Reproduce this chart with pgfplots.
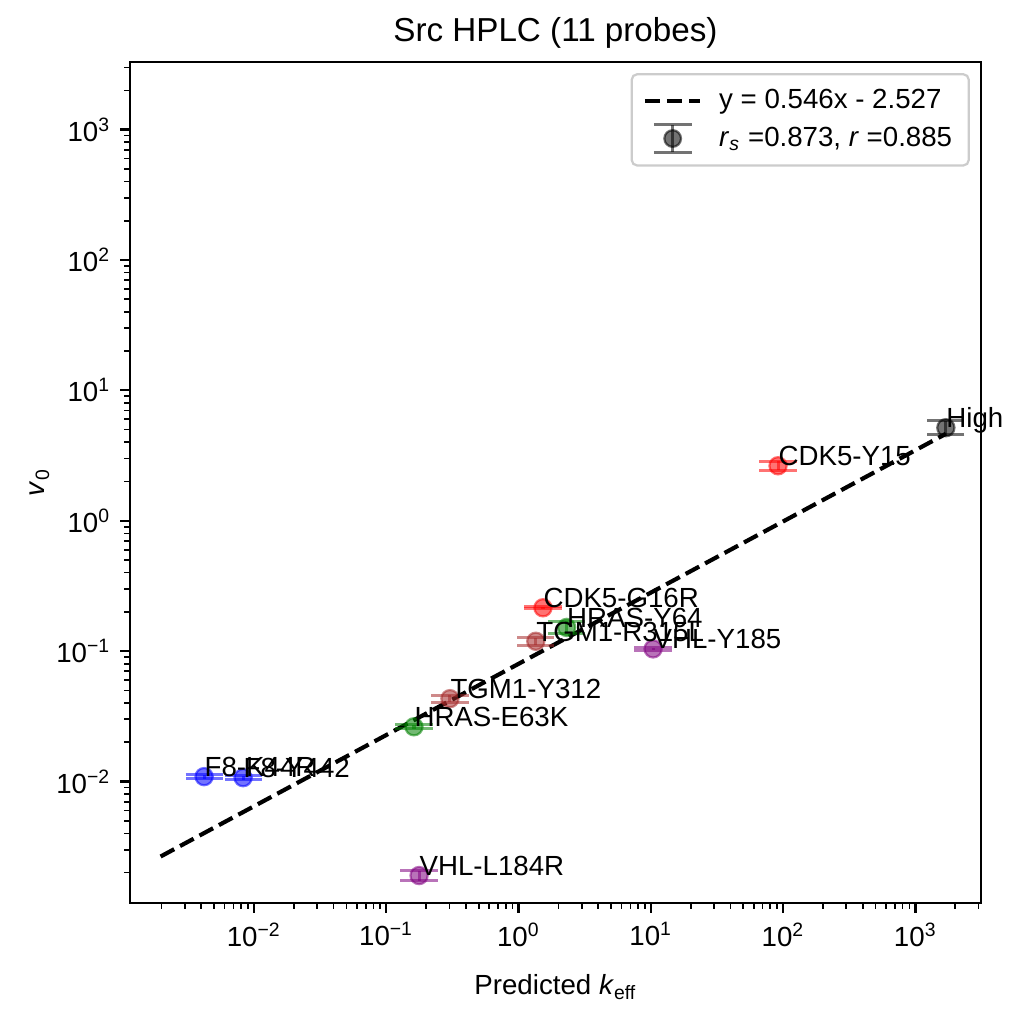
\documentclass[border=0pt]{standalone}
\usepackage{fontspec}
\setmainfont{Liberation Sans}
\usepackage{pgfplots}
\usepackage{pgfplotstable}
\pgfplotsset{compat=1.18}

\pgfplotstableread{
x y ep em
0.0042 0.0109 0.0004 0.0004
0.00828 0.0107 0.0004 0.0004
}\tblF
\pgfplotstableread{
x y ep em
0.177 0.0019 0.00017 0.00016
10.4 0.104 0.0025 0.0024
}\tblV
\pgfplotstableread{
x y ep em
0.162 0.0263 0.0009 0.0009
2.31 0.152 0.017 0.016
}\tblH
\pgfplotstableread{
x y ep em
0.303 0.0432 0.0028 0.0026
1.35 0.119 0.008 0.008
}\tblT
\pgfplotstableread{
x y ep em
1.53 0.215 0.004 0.004
91.5 2.64 0.23 0.21
}\tblC
\pgfplotstableread{
x y ep em
1698 5.17 0.70 0.62
}\tblHi
\pgfplotstableread{
x y label
0.0042 0.0109 F8-K44R
0.00828 0.0107 F8-Y442
0.177 0.0019 VHL-L184R
0.162 0.0263 HRAS-E63K
0.303 0.0432 TGM1-Y312
1.35 0.119 TGM1-R315L
1.53 0.215 CDK5-G16R
2.31 0.152 HRAS-Y64
10.4 0.104 VHL-Y185
91.5 2.64 CDK5-Y15
1698 5.17 High
}\tblLab

\definecolor{mred}{RGB}{255,0,0}
\definecolor{mgreen}{RGB}{0,128,0}
\definecolor{mblue}{RGB}{0,0,255}
\definecolor{mbrown}{RGB}{165,42,42}
\definecolor{mpurple}{RGB}{128,0,128}

\pgfplotsset{
  pt/.style={only marks, mark=*, mark size=3.1bp, color=#1, opacity=0.55,
    mark options={line width=0.8bp},
    error bars/y dir=both, error bars/y explicit,
    error bars/error mark=-,
    error bars/error mark options={rotate=90, mark size=6.7bp, line width=1.1bp},
    error bars/error bar style={line width=1.1bp}},
}

\begin{document}
\begin{tikzpicture}
\begin{axis}[
  scale only axis,
  width=306.36bp, height=302.76bp,
  xmode=log, ymode=log,
  xmin=1.156e-3, xmax=3.13e3,
  ymin=1.17e-3, ymax=3.3e3,
  clip=false,
  axis line style={line width=0.8bp},
  tick align=outside, tick pos=left,
  major tick length=3.5bp, minor tick length=2bp,
  every major tick/.style={line width=0.8bp, black},
  every minor tick/.style={line width=0.6bp, black},
  xtick={1e-2,1e-1,1,10,100,1000},
  xticklabels={10\textsuperscript{−2},10\textsuperscript{−1},10\textsuperscript{0},10\textsuperscript{1},10\textsuperscript{2},10\textsuperscript{3}},
  ytick={1e-2,1e-1,1,10,100,1000},
  yticklabels={10\textsuperscript{−2},10\textsuperscript{−1},10\textsuperscript{0},10\textsuperscript{1},10\textsuperscript{2},10\textsuperscript{3}},
  minor xtick={2e-3,3e-3,4e-3,5e-3,6e-3,7e-3,8e-3,9e-3,0.02,0.03,0.04,0.05,0.06,0.07,0.08,0.09,0.2,0.3,0.4,0.5,0.6,0.7,0.8,0.9,2,3,4,5,6,7,8,9,20,30,40,50,60,70,80,90,200,300,400,500,600,700,800,900,2000,3000},
  minor ytick={2e-3,3e-3,4e-3,5e-3,6e-3,7e-3,8e-3,9e-3,0.02,0.03,0.04,0.05,0.06,0.07,0.08,0.09,0.2,0.3,0.4,0.5,0.6,0.7,0.8,0.9,2,3,4,5,6,7,8,9,20,30,40,50,60,70,80,90,200,300,400,500,600,700,800,900,2000,3000},
  ticklabel style={font=\fontsize{10}{12}\selectfont},
  title={Src HPLC (11 probes)},
  title style={at={(0.5,1)}, anchor=base, yshift=1.5bp, font=\fontsize{12}{14}\selectfont},
  xlabel={Predicted \textit{k}\textsubscript{eff}},
  xlabel style={at={(0.5,0)}, anchor=base, yshift=-33.1bp, font=\fontsize{10}{12}\selectfont},
  ylabel={\textit{v}\textsubscript{0}},
  ylabel style={at={(0,0.5)}, anchor=base, rotate=0, yshift=30.6bp, font=\fontsize{10}{12}\selectfont},
  legend style={at={(1,1)}, anchor=north east, xshift=-4bp, yshift=-4bp,
    draw=black!20, line width=0.8bp, rounded corners=2bp,
    inner xsep=4bp, inner ysep=3.5bp, row sep=1bp,
    font=\fontsize{10}{12}\selectfont, cells={anchor=west}},
  legend cell align=left,
]
\addplot[black, line width=1.5bp, dash pattern=on 5.55bp off 2.4bp,
  legend image code/.code={\draw[black, line width=1.5bp, dash pattern=on 5.55bp off 2.4bp] (0bp,0bp) -- (20bp,0bp); \path (24bp,0bp);}]
  coordinates {(0.00197,0.00266) (1698,4.64)};
\addlegendentry{y = 0.546x - 2.527}

\addplot[pt=black,
  legend image code/.code={
    \draw[black, opacity=0.55, line width=1.1bp] (10bp,-5bp) -- (10bp,5bp);
    \draw[black, opacity=0.55, line width=1.1bp] (3.2bp,5bp) -- (16.8bp,5bp);
    \draw[black, opacity=0.55, line width=1.1bp] (3.2bp,-5bp) -- (16.8bp,-5bp);
    \filldraw[black, opacity=0.55, line width=0.8bp] (10bp,0bp) circle (3bp);
    \path (24bp,0bp);}]
  table[x=x,y=y,y error plus=ep,y error minus=em]{\tblHi};
\addlegendentry{\textit{r}\textsubscript{\textit{s}} =0.873, \textit{r} =0.885}

\addplot[forget plot, pt=mblue] table[x=x,y=y,y error plus=ep,y error minus=em]{\tblF};
\addplot[forget plot, pt=mpurple] table[x=x,y=y,y error plus=ep,y error minus=em]{\tblV};
\addplot[forget plot, pt=mgreen] table[x=x,y=y,y error plus=ep,y error minus=em]{\tblH};
\addplot[forget plot, pt=mbrown] table[x=x,y=y,y error plus=ep,y error minus=em]{\tblT};
\addplot[forget plot, pt=mred] table[x=x,y=y,y error plus=ep,y error minus=em]{\tblC};

\addplot[draw=none, forget plot, nodes near coords, point meta=explicit symbolic,
  every node near coord/.append style={anchor=base west, inner sep=0pt, text=black, opacity=1, font=\fontsize{10}{12}\selectfont}]
  table[x=x,y=y,meta=label]{\tblLab};
\end{axis}
\pgfresetboundingbox
\path ([xshift=-46.8bp,yshift=-43.2bp]current axis.south west) rectangle ([xshift=15.12bp,yshift=22.32bp]current axis.north east);
\end{tikzpicture}
\end{document}
